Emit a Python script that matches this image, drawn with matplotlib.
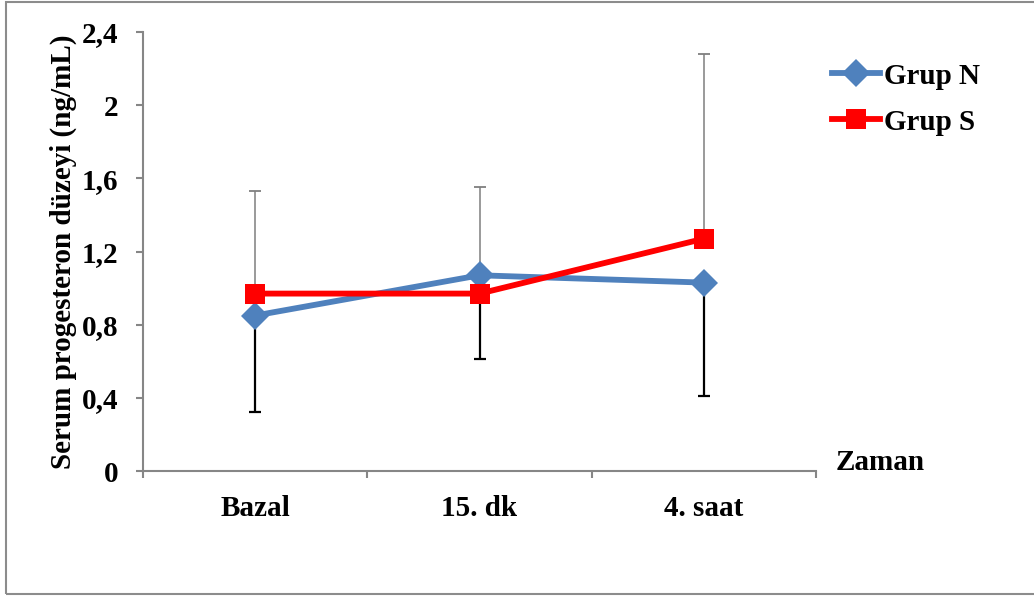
import numpy as np
import matplotlib.pyplot as plt
from matplotlib.patches import Rectangle
from matplotlib.ticker import FixedLocator, FuncFormatter

plt.rcParams['font.family'] = ['Liberation Serif', 'DejaVu Serif']
plt.rcParams['font.weight'] = 'bold'
plt.rcParams['axes.labelweight'] = 'bold'

# ortalama ve hata çubuğu değerleri (ng/mL)
zaman = ['Bazal', '15. dk', '4. saat']
grup_n = [0.85, 1.07, 1.03]
grup_s = [0.97, 0.97, 1.27]
grup_n_alt = [0.53, 0.46, 0.62]   # aşağı doğru hata (siyah)
grup_s_ust = [0.56, 0.58, 1.01]   # yukarı doğru hata (gri)

fig = plt.figure(figsize=(10.34, 5.96), dpi=100)
ax = fig.add_axes([0.1383, 0.2097, 0.6509, 0.7366])

x = np.arange(len(zaman))

# hata çubukları işaretlerin arkasında kalsın
ax.errorbar(x, grup_s, yerr=[np.zeros(3), grup_s_ust], fmt='none',
            ecolor='#7f7f7f', elinewidth=1.1, capsize=4.5, capthick=1.3, zorder=1)
ax.errorbar(x, grup_n, yerr=[grup_n_alt, np.zeros(3)], fmt='none',
            ecolor='black', elinewidth=1.6, capsize=4.5, capthick=1.6, zorder=1)

ax.plot(x, grup_n, color='#4F81BD', lw=4.2, marker='D', ms=14,
        markeredgewidth=0, label='Grup N', zorder=3)
ax.plot(x, grup_s, color='#FF0000', lw=4.2, marker='s', ms=15,
        markeredgewidth=0, label='Grup S', zorder=3)

ax.set_xlim(-0.5, 2.5)
ax.set_ylim(0, 2.4)
ax.set_yticks(np.arange(0, 2.41, 0.4))
ax.yaxis.set_major_formatter(FuncFormatter(lambda v, p: ('%g' % round(v, 1)).replace('.', ',')))

# kategori sınırlarında tik, etiketler ortada
ax.xaxis.set_major_locator(FixedLocator([-0.5, 0.5, 1.5, 2.5]))
ax.xaxis.set_minor_locator(FixedLocator(x))
ax.set_xticklabels([], minor=False)
ax.set_xticklabels(zaman, minor=True)
ax.tick_params(axis='x', which='major', length=5, width=1.5, color='#868686', direction='out')
ax.tick_params(axis='x', which='minor', length=0, pad=17, labelsize=21)
ax.tick_params(axis='y', length=5, width=1.5, color='#868686', direction='out',
               pad=13, labelsize=21)

for s in ['top', 'right']:
    ax.spines[s].set_visible(False)
for s in ['left', 'bottom']:
    ax.spines[s].set_color('#868686')
    ax.spines[s].set_linewidth(1.5)

ax.set_ylabel('Serum progesteron düzeyi (ng/mL)', fontsize=21, labelpad=3)
fig.text(0.808, 0.224, 'Zaman', fontsize=21, ha='left', va='center')

ax.legend(loc='upper left', bbox_to_anchor=(0.985, 0.99), frameon=False,
          fontsize=21, handlelength=1.65, handletextpad=0.12, labelspacing=0.65)

# çerçeve
fig.patches.append(Rectangle((6 / 1034, 2 / 596), 1.1, 1 - 4 / 596,
                             transform=fig.transFigure, fill=False,
                             edgecolor='#8c8c8c', lw=1.5))

fig.savefig('out.png', dpi=100)
